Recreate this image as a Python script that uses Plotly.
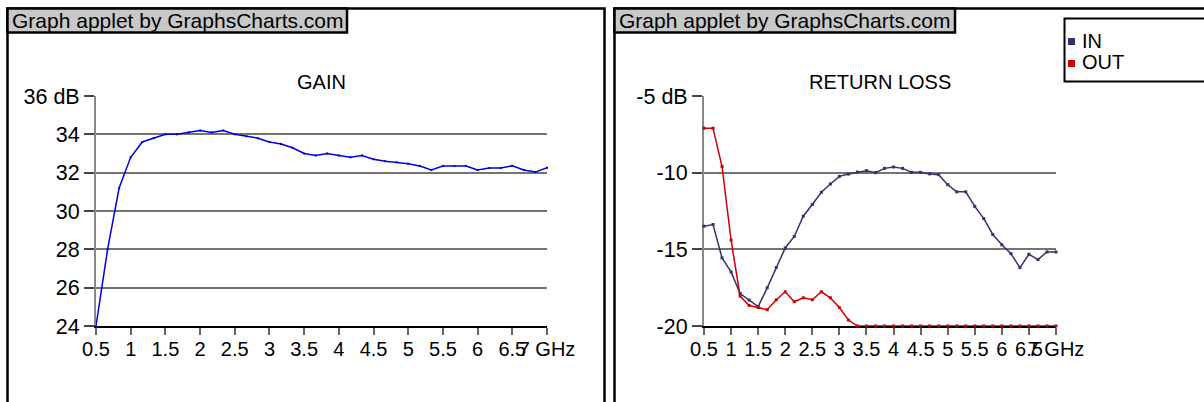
import plotly.graph_objects as go

W, H = 1204, 402

# ---------------- data ----------------
freq_ghz = [0.5, 0.667, 0.833, 1.0, 1.167, 1.333, 1.5, 1.667, 1.833, 2.0,
            2.167, 2.333, 2.5, 2.667, 2.833, 3.0, 3.167, 3.333, 3.5, 3.667,
            3.833, 4.0, 4.167, 4.333, 4.5, 4.667, 4.833, 5.0, 5.167, 5.333,
            5.5, 5.667, 5.833, 6.0, 6.167, 6.333, 6.5, 6.667, 6.833, 7.0]

gain_db = [24.0, 28.0, 31.2, 32.8, 33.6, 33.8, 34.0, 34.0, 34.1, 34.2,
           34.1, 34.2, 34.0, 33.9, 33.8, 33.6, 33.5, 33.3, 33.0, 32.9,
           33.0, 32.9, 32.8, 32.9, 32.7, 32.6, 32.55, 32.47, 32.35, 32.14,
           32.35, 32.35, 32.35, 32.14, 32.24, 32.24, 32.36, 32.14, 32.03, 32.26]

rl_in_db = [-13.49, -13.38, -15.56, -16.47, -17.88, -18.31, -18.74, -17.51, -16.19, -14.91,
            -14.16, -12.84, -12.08, -11.28, -10.74, -10.24, -10.09, -9.96, -9.87, -10.0,
            -9.72, -9.63, -9.72, -9.98, -9.98, -10.08, -10.13, -10.78, -11.25, -11.25,
            -12.2, -13.0, -14.03, -14.7, -15.28, -16.19, -15.32, -15.67, -15.17, -15.17]

rl_out_db = [-7.1, -7.1, -9.6, -14.4, -18.05, -18.66, -18.8, -18.94, -18.3, -17.77,
             -18.42, -18.16, -18.29, -17.77, -18.16, -18.8, -19.61, -20.0, -20.0, -20.0,
             -20.0, -20.0, -20.0, -20.0, -20.0, -20.0, -20.0, -20.0, -20.0, -20.0,
             -20.0, -20.0, -20.0, -20.0, -20.0, -20.0, -20.0, -20.0, -20.0, -20.0]

series_names = ["IN", "OUT"]
series_colors = ["#33336E", "#CC0000"]
gain_color = "#0000DD"

x_tickvals = [0.5, 1, 1.5, 2, 2.5, 3, 3.5, 4, 4.5, 5, 5.5, 6, 6.5, 7]
x_ticktext = ["0.5", "1", "1.5", "2", "2.5", "3", "3.5", "4", "4.5", "5",
              "5.5", "6", "6.5", "7 GHz"]
gain_tickvals = [24, 26, 28, 30, 32, 34, 36]
gain_ticktext = ["24", "26", "28", "30", "32", "34", "36 dB"]
rl_tickvals = [-20, -15, -10, -5]
rl_ticktext = ["-20", "-15", "-10", "-5 dB"]

titles = ["GAIN", "RETURN LOSS"]
header_text = "Graph applet by GraphsCharts.com"

FONT = "Liberation Sans, Arial, sans-serif"


def px(x):
    return x / W


def py(y):
    return 1 - y / H


fig = go.Figure()

fig.add_trace(go.Scatter(x=freq_ghz, y=gain_db, xaxis="x", yaxis="y", mode="lines+markers",
                         line=dict(color=gain_color, width=1.5),
                         marker=dict(size=2, color=gain_color, symbol="square"),
                         name="GAIN", cliponaxis=False))
for name, color, vals in zip(series_names, series_colors, [rl_in_db, rl_out_db]):
    fig.add_trace(go.Scatter(x=freq_ghz, y=vals, xaxis="x2", yaxis="y2", mode="lines+markers",
                             line=dict(color=color, width=1.5),
                             marker=dict(size=3, color=color, symbol="square"),
                             name=name, cliponaxis=False))

x_common = dict(tickmode="array", tickvals=x_tickvals, ticktext=x_ticktext, tickangle=0,
                ticks="outside", ticklen=7, tickwidth=1.5, tickcolor="#666666",
                showline=True, linecolor="#000000", linewidth=1.5, showgrid=False,
                zeroline=False, layer="below traces", ticklabelstandoff=-3, automargin=False,
                tickfont=dict(size=20, family=FONT, color="#000000"), fixedrange=True)
y_common = dict(tickmode="array", ticks="outside", ticklen=10, tickwidth=1.5,
                tickcolor="#444444", showline=True, linecolor="#888888", linewidth=2,
                showgrid=True, gridcolor="#747474", gridwidth=1.5, zeroline=False,
                layer="below traces", automargin=False,
                tickfont=dict(size=21.5, family=FONT, color="#000000"), fixedrange=True)

ydom = [py(326), py(96)]

fig.update_layout(
    width=W, height=H, autosize=False,
    margin=dict(l=0, r=0, t=0, b=0, pad=0, autoexpand=False),
    paper_bgcolor="white", plot_bgcolor="white", showlegend=False,
    font=dict(family=FONT, size=20, color="#000000"),
    xaxis=dict(domain=[px(96), px(547)], anchor="y", range=[0.5, 7.0], **x_common),
    yaxis=dict(domain=ydom, anchor="x", range=[24, 36], tickvals=gain_tickvals,
               ticktext=gain_ticktext, **y_common),
    xaxis2=dict(domain=[px(704), px(1056)], anchor="y2", range=[0.5, 7.0], **x_common),
    yaxis2=dict(domain=ydom, anchor="x2", range=[-20, -5], tickvals=rl_tickvals,
                ticktext=rl_ticktext, **y_common),
)

shapes = []
# panel frames
for x0, x1 in [(7.5, 604.5), (614.5, 1215)]:
    shapes.append(dict(type="rect", xref="paper", yref="paper", x0=px(x0), x1=px(x1),
                       y0=py(420), y1=py(8.5), line=dict(color="#000000", width=2.5),
                       fillcolor="rgba(0,0,0,0)", layer="above"))
# header boxes
for x0, x1 in [(7.5, 347), (614.5, 955)]:
    shapes.append(dict(type="rect", xref="paper", yref="paper", x0=px(x0), x1=px(x1),
                       y0=py(32.5), y1=py(8.5), line=dict(color="#000000", width=2.5),
                       fillcolor="#C8C8C8", layer="above"))
# legend box
shapes.append(dict(type="rect", xref="paper", yref="paper", x0=px(1064.5), x1=px(1215),
                   y0=py(81.5), y1=py(18.5), line=dict(color="#000000", width=2),
                   fillcolor="white", layer="above"))
legend_y = [41.5, 63.5]
for color, ly in zip(series_colors, legend_y):
    shapes.append(dict(type="rect", xref="paper", yref="paper", x0=px(1068), x1=px(1075),
                       y0=py(ly + 3.5), y1=py(ly - 3.5), line=dict(width=0),
                       fillcolor=color, layer="above"))
fig.update_layout(shapes=shapes)

annotations = []
for hx in [10, 617]:
    annotations.append(dict(text=header_text, xref="paper", yref="paper", x=px(hx), y=py(20.5),
                            xanchor="left", yanchor="middle", showarrow=False,
                            font=dict(size=21, family=FONT, color="#000000")))
for t, cx in zip(titles, [321.5, 879.5]):
    annotations.append(dict(text=t, xref="paper", yref="paper", x=px(cx), y=py(82),
                            xanchor="center", yanchor="middle", showarrow=False,
                            font=dict(size=20, family=FONT, color="#000000")))
for name, ly in zip(series_names, legend_y):
    annotations.append(dict(text=name, xref="paper", yref="paper", x=px(1080), y=py(ly - 1),
                            xanchor="left", yanchor="middle", showarrow=False,
                            font=dict(size=20, family=FONT, color="#000000")))
fig.update_layout(annotations=annotations)

fig.write_html("out.html", config={"displayModeBar": False},
               post_script="document.body.style.margin='0';document.body.style.overflow='hidden';")
